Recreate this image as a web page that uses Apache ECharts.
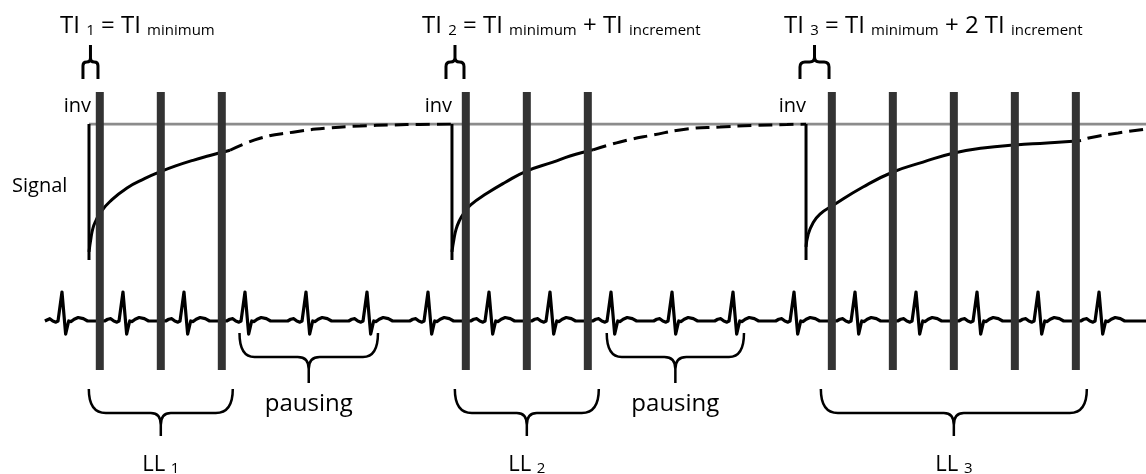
<!DOCTYPE html>
<html><head><meta charset="utf-8">
<script src="https://cdn.jsdelivr.net/npm/echarts@6/dist/echarts.min.js"></script>
<style>html,body{margin:0;padding:0;background:#fff}#c{width:1146px;height:474px}</style>
</head><body><div id="c"></div>
<script>
// ---- time axis (ms), RR interval = 1000 ms ----
const T_MIN = -1016, T_MAX = 17770;
const beatTimes = [0,1000,2000,3000,4000,5000,6000,7000,8000,9000,10000,11000,12000,13000,14000,15000,16000,17000];
const ecgStart = -280, ecgEnd = 17770;
// one heartbeat: [ms from R peak, mV]
const ecgBeatShape = [[-300,0],[-250,0.06],[-200,0.08],[-150,0],[-100,-0.04],[-65,0],[0,1],[60,-0.45],[110,0],[150,-0.02],[200,0.06],[265,0.12],[350,0.08],[420,0]];
const inversionTimes = [443, 6393, 12197];
const readoutTimes = [620,1620,2620, 6620,7620,8620, 12620,13620,14620,15620,16620];
const m0Line = [[443,1],[17770,1]];
// recovery curves [ms, normalised signal]
const rec1Solid = [[443,0.06],[475,0.16],[508,0.235],[557,0.29],[623,0.345],[787,0.43],[1066,0.53],[1361,0.60],[1590,0.645],[1852,0.69],[2148,0.733],[2426,0.768],[2607,0.79],[2754,0.807]];
const rec1Dashed = [[2754,0.807],[3246,0.895],[3787,0.94],[4344,0.97],[4885,0.985],[5426,0.993],[5869,0.997],[6393,1.0]];
const rec2Solid = [[6393,0.06],[6426,0.155],[6460,0.225],[6510,0.285],[6580,0.34],[6700,0.405],[6967,0.49],[7262,0.57],[7607,0.652],[8049,0.72],[8328,0.765],[8607,0.80],[8705,0.81]];
const rec2Dashed = [[8705,0.81],[9148,0.868],[9689,0.919],[10246,0.963],[10787,0.978],[11328,0.989],[11885,0.996],[12197,1.0]];
const rec3Solid = [[12197,0.096],[12230,0.184],[12311,0.272],[12426,0.338],[12623,0.397],[13131,0.537],[13623,0.647],[14115,0.72],[14623,0.787],[15098,0.824],[15623,0.846],[16148,0.86],[16639,0.875],[16705,0.879]];
const rec3Dashed = [[16705,0.879],[16852,0.899],[17311,0.934],[17770,0.963]];
// annotation spans [start ms, end ms]
const tiSpans = [[344,590],[6295,6590],[12098,12574]];
const llSpans = [[440,2800],[6440,8800],[12440,16800]];
const pausingSpans = [[2910,5180],[8930,11180]];
const llLabels = ['1','2','3'];
const pausingLabel = 'pausing';
const invLabel = 'inv';
const signalLabel = 'Signal';
const tiFormulas = [
  '{b|TI }{s|1}{b| = TI }{s|minimum}',
  '{b|TI }{s|2}{b| = TI }{s|minimum}{b| + TI }{s|increment}',
  '{b|TI }{s|3}{b| = TI }{s|minimum}{b| + 2 TI }{s|increment}'
];

// ---- build ECG trace from beat template ----
const ecgData = [[ecgStart, 0]];
beatTimes.forEach(b => ecgBeatShape.forEach(([dt, v]) => { const t = b + dt; if (t > ecgStart) ecgData.push([t, v]); }));
ecgData.push([ecgEnd, 0]);

const FONT = '"Open Sans", sans-serif';
const chart = echarts.init(document.getElementById('c'), null, {renderer: 'canvas'});

function xAx(i){ return {gridIndex:i, type:'value', min:T_MIN, max:T_MAX, show:false}; }
function yAx(i,min,max){ return {gridIndex:i, type:'value', min:min, max:max, show:false}; }

function lineSeries(data, dashed, z, color, width, extra){
  return {type:'line', xAxisIndex:0, yAxisIndex:0, data:data, symbol:'none', smooth:0.5, z:z||3,
    lineStyle:Object.assign({color: color||'#000', width: width||3, type: dashed ? [14,7] : 'solid', cap:'butt'}, extra||{}), silent:true};
}

function braceDown(yEnd, yMid, yTip, rx, rx2, ry2, lw, labelFn, labelY){
  return function(params, api){
    const x1 = api.coord([api.value(0), 0])[0];
    const x2 = api.coord([api.value(1), 0])[0];
    const xm = (x1 + x2) / 2;
    const d = `M${x1},${yEnd} Q${x1},${yMid} ${x1+rx},${yMid} L${xm-rx2},${yMid} Q${xm},${yMid} ${xm},${yMid+ry2} L${xm},${yTip} ` +
              `M${x2},${yEnd} Q${x2},${yMid} ${x2-rx},${yMid} L${xm+rx2},${yMid} Q${xm},${yMid} ${xm},${yMid+ry2}`;
    const children = [{type:'path', shape:{pathData:d}, style:{fill:'none', stroke:'#000', lineWidth:lw}}];
    const lab = labelFn(params.dataIndex);
    children.push({type:'text', x:xm, y:labelY, style:Object.assign({align:'center', verticalAlign:'middle', fill:'#000'}, lab)});
    return {type:'group', children:children};
  };
}
function braceUp(yEnd, yMid, yTip, lw){
  return function(params, api){
    const x1 = api.coord([api.value(0), 0])[0];
    const x2 = api.coord([api.value(1), 0])[0];
    const xm = (x1 + x2) / 2;
    const r = Math.min(5, (xm - x1) / 2);
    const d = `M${x1},${yEnd} L${x1},${yMid+r} Q${x1},${yMid} ${x1+r},${yMid} L${xm-r},${yMid} Q${xm},${yMid} ${xm},${yMid-r} L${xm},${yTip} ` +
              `M${x2},${yEnd} L${x2},${yMid+r} Q${x2},${yMid} ${x2-r},${yMid} L${xm+r},${yMid} Q${xm},${yMid} ${xm},${yMid-r}`;
    return {type:'path', shape:{pathData:d}, style:{fill:'none', stroke:'#000', lineWidth:lw}};
  };
}

const option = {
  animation:false,
  backgroundColor:'#fff',
  grid:[
    {left:0, right:0, top:124, height:136},   // signal
    {left:0, right:0, top:263, height:87},    // ECG
    {left:0, right:0, top:0, height:474},     // annotations
    {left:0, right:0, top:92, height:278}     // readout bars
  ],
  xAxis:[xAx(0), xAx(1), xAx(2), xAx(3)],
  yAxis:[yAx(0,0,1), yAx(1,-1,2), yAx(2,0,1), yAx(3,0,1)],
  series:[
    lineSeries(m0Line, false, 1, '#8c8c8c', 3),
    lineSeries(rec1Dashed, true, 2),
    lineSeries(rec2Dashed, true, 2),
    lineSeries(rec3Dashed, true, 2, '#000', 3, {dashOffset:14}),
    lineSeries(rec1Solid, false, 3),
    lineSeries(rec2Solid, false, 3),
    lineSeries(rec3Solid, false, 3),
    // inversion pulses
    ...inversionTimes.map(t => ({type:'line', xAxisIndex:0, yAxisIndex:0, data:[[t,1],[t,0]], symbol:'none', z:3, silent:true,
        lineStyle:{color:'#000', width:3}})),
    // ECG
    {type:'line', xAxisIndex:1, yAxisIndex:1, data:ecgData, symbol:'none', z:3, silent:true,
      lineStyle:{color:'#000', width:3.2, join:'round'}},
    // readout bars
    {type:'custom', xAxisIndex:3, yAxisIndex:3, z:10, silent:true,
      data: readoutTimes.map(t => [t, 0]),
      renderItem:function(params, api){
        const p0 = api.coord([api.value(0), 0]);
        const p1 = api.coord([api.value(0), 1]);
        return {type:'rect', shape:{x:p0[0]-4, y:p1[1], width:8, height:p0[1]-p1[1]}, style:{fill:'#333'}};
      }},
    // TI braces
    {type:'custom', xAxisIndex:2, yAxisIndex:2, z:4, silent:true, data:tiSpans, renderItem:braceUp(79, 62, 45, 3)},
    // pausing braces
    {type:'custom', xAxisIndex:2, yAxisIndex:2, z:4, silent:true, data:pausingSpans,
      renderItem:braceDown(333, 357, 383, 15, 11, 12, 2.5, () => ({text:pausingLabel, font:'24px ' + FONT}), 404)},
    // LL braces
    {type:'custom', xAxisIndex:2, yAxisIndex:2, z:4, silent:true, data:llSpans,
      renderItem:braceDown(389, 413, 436, 17, 10, 12, 2.5, (i) => ({text:'{b|LL }{s|' + llLabels[i] + '}',
        rich:{b:{fontSize:22, fontFamily:FONT, lineHeight:26, verticalAlign:'bottom'}, s:{fontSize:15, fontFamily:FONT, lineHeight:20, verticalAlign:'bottom'}}}), 463)}
  ],
  graphic:[
    ...tiFormulas.map((txt, i) => ({type:'text', x:[60,422,784][i], y:38, style:{text:txt, fill:'#000', verticalAlign:'bottom',
      rich:{b:{fontSize:24, fontFamily:FONT, lineHeight:28, verticalAlign:'bottom'}, s:{fontSize:15, fontFamily:FONT, lineHeight:22, verticalAlign:'bottom'}}}})),
    ...inversionTimes.map((t, i) => ({type:'text', x:[91,452,806][i], y:116, style:{text:invLabel, font:'20px ' + FONT, fill:'#000', align:'right', verticalAlign:'bottom'}})),
    {type:'text', x:12, y:186, style:{text:signalLabel, font:'20px ' + FONT, fill:'#000', align:'left', verticalAlign:'middle'}}
  ]
};
chart.setOption(option);
</script>
</body></html>
